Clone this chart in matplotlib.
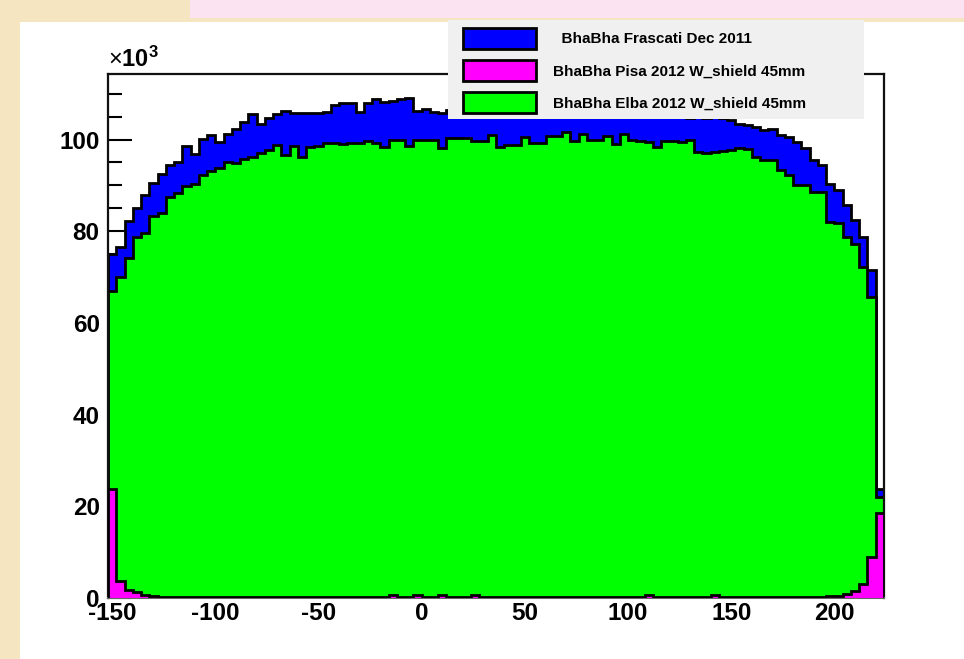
import numpy as np
import matplotlib.pyplot as plt
from matplotlib.patches import Rectangle

# histogram binning (4 units per bin)
bin_lo = -152
bin_hi = 224
bin_width = 4

# bin contents, in units of 10^3 entries
frascati = [
    75.0, 76.6, 82.2, 85.0, 88.0, 90.5, 92.4, 94.4, 95.2, 98.6,
    96.8, 100.1, 101.0, 99.5, 101.2, 102.4, 103.9, 105.5, 103.5, 104.6,
    105.6, 106.3, 105.9, 105.7, 105.9, 105.7, 106.1, 107.5, 107.9, 107.9,
    106.1, 107.9, 108.8, 108.3, 108.5, 108.8, 109.1, 106.3, 106.6, 106.1,
    105.7, 106.5, 105.8, 106.2, 105.5, 106.8, 105.9, 106.3, 105.4, 106.0,
    106.5, 105.7, 106.1, 105.3, 106.4, 105.8, 106.0, 105.5, 106.2, 105.6,
    105.9, 105.2, 105.8, 105.4, 105.6, 105.1, 105.5, 104.9, 105.3, 105.0,
    104.8, 105.1, 104.7, 104.9, 104.6, 104.3, 103.5, 103.2, 102.8, 102.1,
    102.4, 101.0, 100.6, 99.5, 98.1, 95.5, 94.4, 90.4, 89.0, 85.7,
    82.4, 78.8, 71.5, 23.7,
]

elba = [
    67.0, 70.1, 74.1, 78.8, 79.7, 83.3, 84.0, 87.5, 88.4, 89.8,
    90.2, 92.3, 93.1, 93.7, 95.2, 94.8, 95.8, 96.3, 97.0, 97.7,
    98.8, 96.6, 98.6, 96.3, 98.3, 98.6, 99.3, 99.2, 99.0, 99.2,
    99.3, 99.6, 99.3, 98.4, 100.0, 100.0, 98.6, 100.0, 100.0, 100.0,
    98.1, 100.3, 100.3, 100.3, 99.7, 99.7, 101.0, 98.3, 98.8, 98.8,
    100.5, 99.2, 99.2, 100.8, 100.8, 101.7, 99.7, 101.2, 100.0, 100.0,
    100.8, 99.0, 101.2, 99.9, 99.7, 99.5, 98.3, 99.7, 99.6, 99.5,
    99.9, 97.3, 97.1, 97.3, 97.5, 97.7, 98.1, 97.9, 96.2, 95.5,
    95.5, 93.3, 92.3, 90.1, 90.1, 88.6, 88.6, 82.1, 81.7, 78.8,
    77.3, 72.3, 65.6, 22.0,
]

pisa = [
    23.7, 3.8, 1.7, 1.2, 0.65, 0.4, 0.2, 0.2, 0.2, 0.2,
    0.2, 0.2, 0.2, 0.2, 0.2, 0.2, 0.2, 0.2, 0.2, 0.2,
    0.2, 0.2, 0.2, 0.2, 0.2, 0.2, 0.2, 0.2, 0.2, 0.2,
    0.2, 0.2, 0.2, 0.2, 0.6, 0.2, 0.2, 0.6, 0.2, 0.2,
    0.6, 0.2, 0.2, 0.2, 0.6, 0.2, 0.2, 0.2, 0.2, 0.2,
    0.2, 0.2, 0.2, 0.2, 0.2, 0.2, 0.2, 0.2, 0.2, 0.2,
    0.2, 0.2, 0.2, 0.2, 0.2, 0.6, 0.2, 0.2, 0.2, 0.2,
    0.2, 0.2, 0.2, 0.6, 0.2, 0.2, 0.2, 0.2, 0.2, 0.2,
    0.2, 0.2, 0.2, 0.2, 0.2, 0.3, 0.3, 0.35, 0.4, 0.8,
    1.5, 3.0, 9.0, 18.5,
]

labels = ["  BhaBha Frascati Dec 2011",
          "BhaBha Pisa 2012 W_shield 45mm",
          "BhaBha Elba 2012 W_shield 45mm"]
x_ticks = [-150, -100, -50, 0, 50, 100, 150, 200]
y_ticks = [0, 20, 40, 60, 80, 100]

plt.rcParams['font.family'] = ['Liberation Sans', 'DejaVu Sans']
plt.rcParams['axes.unicode_minus'] = False
plt.rcParams['mathtext.fontset'] = 'custom'
plt.rcParams['mathtext.rm'] = 'Liberation Sans'
plt.rcParams['mathtext.bf'] = 'Liberation Sans:bold'

W, H = 964, 659
fig = plt.figure(figsize=(W / 100, H / 100), dpi=100)
fig.patch.set_facecolor('#f5e5c0')

# white canvas and the pink strip at the top
fig.add_artist(Rectangle((20 / W, 0), 1, 1 - 22 / H, transform=fig.transFigure,
                         facecolor='white', edgecolor='none', zorder=-10))
fig.add_artist(Rectangle((190 / W, 1 - 18 / H), 1, 18 / H, transform=fig.transFigure,
                         facecolor='#fbe3f1', edgecolor='none', zorder=-10))

ax = fig.add_axes([108 / W, 1 - 598 / H, 776 / W, 524 / H])
ax.set_facecolor('white')

edges = np.arange(bin_lo, bin_hi + 1, bin_width)
h_fr = ax.stairs(frascati, edges, baseline=0, fill=True, facecolor='#0000ff',
                 edgecolor='black', linewidth=2, zorder=1)
h_el = ax.stairs(elba, edges, baseline=0, fill=True, facecolor='#00ff00',
                 edgecolor='black', linewidth=2, zorder=2)
h_pi = ax.stairs(pisa, edges, baseline=0, fill=True, facecolor='#ff00ff',
                 edgecolor='black', linewidth=2, zorder=3)

ax.set_xlim(bin_lo, bin_hi)
ax.set_ylim(0, 114.3)
ax.set_axisbelow(True)

ax.set_xticks(x_ticks)
ax.set_yticks(y_ticks)
ax.set_yticks(np.arange(0, 115, 5), minor=True)
ax.tick_params(axis='x', length=0, pad=3, labelsize=17.5)
ax.tick_params(axis='y', which='major', direction='in', length=17, width=1.5,
               pad=6, labelsize=17.5)
ax.tick_params(axis='y', which='minor', direction='in', length=10, width=1.5)
for lab in ax.get_xticklabels() + ax.get_yticklabels():
    lab.set_fontweight('bold')

for side in ['top', 'left', 'right']:
    ax.spines[side].set_linewidth(1.6)
    ax.spines[side].set_color('#111111')
ax.spines['bottom'].set_color('#666666')
ax.spines['bottom'].set_linewidth(1.5)

ax.text(0, 1.004, r'$\times\mathbf{10^{3}}$', transform=ax.transAxes,
        ha='left', va='bottom', fontsize=17)

# legend box
fig.add_artist(Rectangle((448 / W, 1 - 119 / H), 416 / W, 99 / H,
                         transform=fig.transFigure, facecolor='#f0f0f0',
                         edgecolor='none', zorder=4))
fs = 11
fig.legend([h_fr, h_pi, h_el], labels, loc='upper left',
           bbox_to_anchor=(463 / W, 1 - 28 / H), bbox_transform=fig.transFigure,
           frameon=False, borderpad=0, borderaxespad=0,
           handlelength=4.8, handleheight=1.70,
           handletextpad=1.1, labelspacing=0.75,
           prop={'weight': 'bold', 'size': fs})

fig.savefig('out.png', dpi=100, facecolor=fig.get_facecolor())
